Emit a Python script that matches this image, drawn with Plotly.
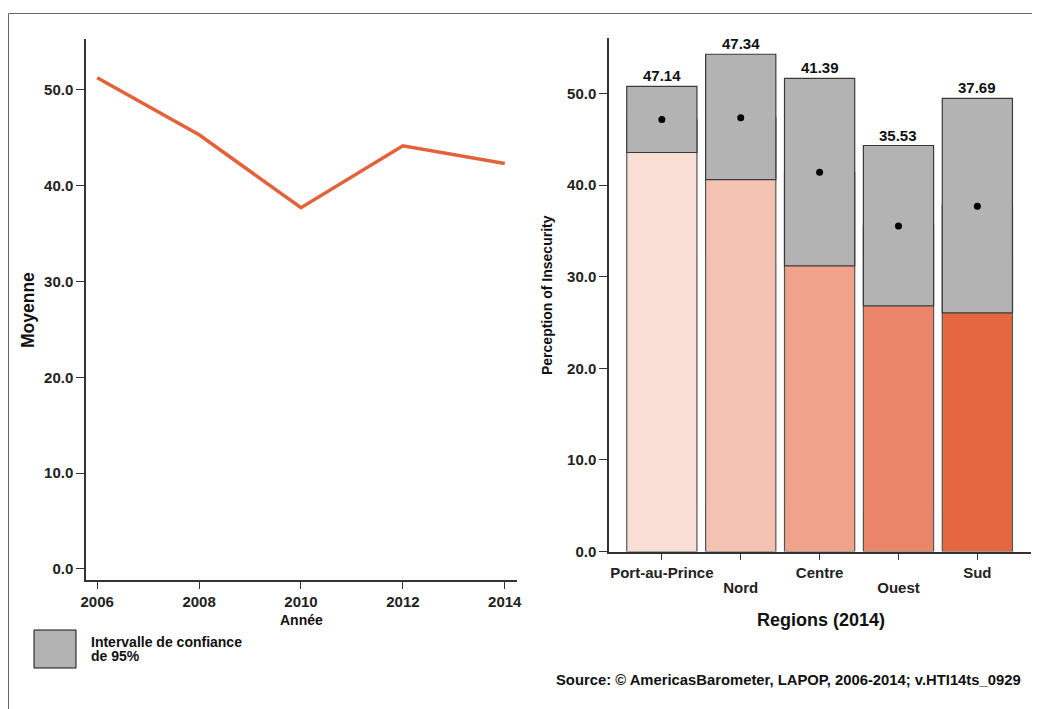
import plotly.graph_objects as go

# ---------------- data ----------------
years = [2006, 2008, 2010, 2012, 2014]
moyenne = [51.25, 45.3, 37.7, 44.15, 42.3]

regions = ["Port-au-Prince", "Nord", "Centre", "Ouest", "Sud"]
means = [47.14, 47.34, 41.39, 35.53, 37.69]
ci_lower = [43.55, 40.59, 31.18, 26.80, 26.04]
ci_upper = [50.77, 54.27, 51.64, 44.31, 49.45]
bar_colors = ["#f9dfd5", "#f4c2b1", "#f0a28a", "#ec866a", "#e5673f"]

left_yticks = [0, 10, 20, 30, 40, 50]
right_yticks = [0, 10, 20, 30, 40, 50]

# staggered region labels: first row / second row
row1 = ["Port-au-Prince", "Centre", "Sud"]
row2 = ["Nord", "Ouest"]

# ---------------- figure ----------------
W, H = 1040, 709
OFF = 8  # page body margin
FONT = "Liberation Sans, Arial, Helvetica, sans-serif"
GRAY = "#b3b3b3"
AXC = "#333333"


def px(x):
    return (x - OFF) / W


def py(y):
    return 1 - (y - OFF) / H


fig = go.Figure()

# left: line chart
fig.add_trace(go.Scatter(
    x=years, y=moyenne, mode="lines",
    line=dict(color="#e4623a", width=3.5),
    xaxis="x", yaxis="y", showlegend=False, hoverinfo="x+y"))

# right: colored bars (0 -> mean)
fig.add_trace(go.Bar(
    x=regions, y=means,
    marker=dict(color=bar_colors, line=dict(color="#555555", width=1.2)),
    xaxis="x2", yaxis="y2", showlegend=False, width=0.89))

# right: grey confidence interval boxes
fig.add_trace(go.Bar(
    x=regions, y=[u - l for u, l in zip(ci_upper, ci_lower)], base=ci_lower,
    marker=dict(color=GRAY, line=dict(color="#3a3a3a", width=1.2)),
    xaxis="x2", yaxis="y2", showlegend=False, width=0.89))

# right: mean dots
fig.add_trace(go.Scatter(
    x=regions, y=means, mode="markers",
    marker=dict(color="black", size=7),
    xaxis="x2", yaxis="y2", showlegend=False))

# invisible helper trace so the second label row axis exists
fig.add_trace(go.Scatter(
    x=regions, y=means, mode="markers",
    marker=dict(color="rgba(0,0,0,0)", size=1),
    xaxis="x3", yaxis="y2", showlegend=False, hoverinfo="skip"))

bold_tick = dict(family=FONT, size=15, color="#222222", weight="bold")
common = dict(ticks="outside", tickcolor=AXC, showline=True, linecolor=AXC,
              linewidth=1.5, showgrid=False, zeroline=False, tickfont=bold_tick,
              automargin=False)

x2_range = [-0.67, 4.68]
x2_domain = [px(609), px(1031)]

fig.update_layout(
    width=W, height=H,
    margin=dict(l=0, r=0, t=0, b=0, pad=0, autoexpand=False),
    paper_bgcolor="white", plot_bgcolor="white",
    barmode="overlay",
    font=dict(family=FONT),
    xaxis=dict(
        domain=[px(86), px(517)], anchor="y",
        range=[2005.78, 2014.24], tickvals=years, ticktext=[str(y) for y in years],
        ticklen=7, **common),
    yaxis=dict(
        domain=[py(580), py(39)], anchor="x",
        range=[-1.15, 55.3], tickvals=left_yticks, tickformat=".1f",
        ticklen=8, **common),
    xaxis2=dict(
        domain=x2_domain, anchor="y2", type="category",
        categoryorder="array", categoryarray=regions,
        range=x2_range, tickvals=regions,
        ticktext=[r if r in row1 else "" for r in regions],
        ticklen=7, **common),
    yaxis2=dict(
        domain=[py(551.5), py(37.5)], anchor="x2",
        range=[0, 56.1], tickvals=right_yticks, tickformat=".1f",
        ticklen=8, **common),
    # second row of staggered region labels
    xaxis3=dict(
        domain=x2_domain, anchor="y2", overlaying="x2", side="bottom",
        type="category", categoryorder="array", categoryarray=regions,
        range=x2_range, tickmode="array", tickvals=row2, ticktext=row2,
        ticks="", showline=False, showgrid=False, zeroline=False,
        tickfont=bold_tick, ticklabelstandoff=25, automargin=False),
)

annotations = []
# value labels above CI boxes
for r, m, u in zip(regions, means, ci_upper):
    annotations.append(dict(
        x=r, y=u, xref="x2", yref="y2", text=f"{m:.2f}", showarrow=False,
        xanchor="center", yanchor="bottom", yshift=0,
        font=dict(family=FONT, size=15, color="#111", weight="bold")))

ttl = dict(xref="paper", yref="paper", showarrow=False, xanchor="center", yanchor="middle")
txt = dict(color="#111", weight="bold", family=FONT)
annotations += [
    dict(x=px(28), y=py(310), text="Moyenne", textangle=-90,
         font=dict(size=17.5, **txt), **ttl),
    dict(x=px(301), y=py(620), text="Année", font=dict(size=14, **txt), **ttl),
    dict(x=px(547), y=py(295), text="Perception of Insecurity", textangle=-90,
         font=dict(size=14, **txt), **ttl),
    dict(x=px(821), y=py(620), text="Regions (2014)", font=dict(size=18, **txt), **ttl),
    dict(x=px(89), y=py(642), xref="paper", yref="paper", xanchor="left", yanchor="middle",
         text="Intervalle de confiance", showarrow=False, font=dict(size=14, **txt)),
    dict(x=px(89), y=py(655.5), xref="paper", yref="paper", xanchor="left", yanchor="middle",
         text="de 95%", showarrow=False, font=dict(size=14, **txt)),
    dict(x=px(1023), y=py(680), xref="paper", yref="paper", xanchor="right", yanchor="middle",
         text="Source: © AmericasBarometer, LAPOP, 2006-2014; v.HTI14ts_0929", showarrow=False,
         font=dict(size=14.8, **txt)),
]
fig.update_layout(annotations=annotations)

fig.update_layout(shapes=[
    # outer frame
    dict(type="rect", xref="paper", yref="paper", x0=px(8.5), y0=-0.2, x1=1.2, y1=py(13.5),
         line=dict(color="#666666", width=1), fillcolor="rgba(0,0,0,0)", layer="below"),
    # legend swatch
    dict(type="rect", xref="paper", yref="paper", x0=px(34), y0=py(668), x1=px(76), y1=py(630),
         line=dict(color="#111111", width=1), fillcolor=GRAY),
])

fig.write_html("out.html")
